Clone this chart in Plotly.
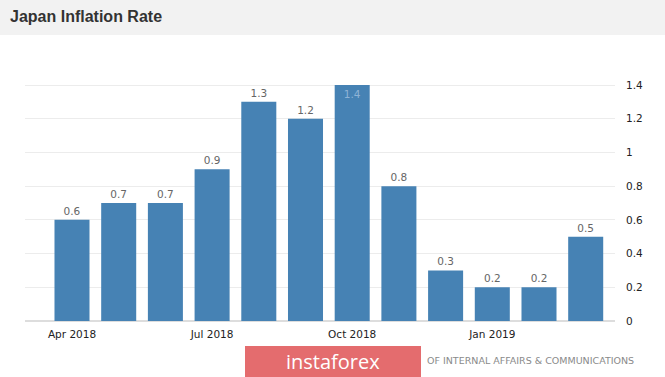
import plotly.graph_objects as go

months = ["Apr 2018", "May 2018", "Jun 2018", "Jul 2018", "Aug 2018", "Sep 2018",
          "Oct 2018", "Nov 2018", "Dec 2018", "Jan 2019", "Feb 2019", "Mar 2019"]
inflation = [0.6, 0.7, 0.7, 0.9, 1.3, 1.2, 1.4, 0.8, 0.3, 0.2, 0.2, 0.5]
x_ticks = ["Apr 2018", "Jul 2018", "Oct 2018", "Jan 2019"]
y_ticks = [0, 0.2, 0.4, 0.6, 0.8, 1, 1.2, 1.4]
y_tick_labels = ["0", "0.2", "0.4", "0.6", "0.8", "1", "1.2", "1.4"]

W, H = 665, 377
ymax = 1.4
positions = ["inside" if v >= ymax else "outside" for v in inflation]
colors = ["#8fb3d6" if v >= ymax else "#666666" for v in inflation]

L, R, T, B = 25, 50, 75, 56
PW, PH = W - L - R, H - T - B

def px_x(x):
    return (x - L) / PW

def px_y(y):
    return (H - B - y) / PH

fig = go.Figure()
fig.add_trace(go.Bar(
    x=months, y=inflation,
    marker=dict(color="#4682b4", line=dict(width=0)),
    text=[f"{v:g}" for v in inflation],
    textposition=positions,
    insidetextanchor="end",
    textfont=dict(family="DejaVu Sans", size=10.5, color=colors),
    cliponaxis=False,
    hoverinfo="x+y",
))

# category index i centre at 72 + 46.7*i px
x0_idx = (L - 72) / 46.7
x1_idx = (W - R - 72) / 46.7

fig.update_layout(
    width=W, height=H,
    margin=dict(l=L, r=R, t=T, b=B),
    paper_bgcolor="white", plot_bgcolor="white",
    bargap=0.25,
    showlegend=False,
    font=dict(family="DejaVu Sans", color="#333333"),
    xaxis=dict(
        type="category", range=[x0_idx, x1_idx],
        tickmode="array", tickvals=x_ticks, ticktext=x_ticks,
        tickfont=dict(size=10.5, color="#222222"),
        ticklabelstandoff=5,
        showgrid=False, showline=False, zeroline=False, ticks="",
    ),
    yaxis=dict(
        side="right", range=[0, (H - B - T) / (236 / 1.4)],
        tickmode="array", tickvals=y_ticks, ticktext=y_tick_labels,
        tickfont=dict(size=10.5, color="#222222"),
        ticklabelstandoff=10,
        showgrid=True, gridcolor="#ececec", gridwidth=1,
        zeroline=True, zerolinecolor="#dddddd", showline=False, ticks="",
    ),
    shapes=[
        dict(type="rect", xref="paper", yref="paper", x0=px_x(-5), x1=px_x(W + 5),
             y0=px_y(35), y1=px_y(-5),
             fillcolor="#f2f2f2", line=dict(width=0), layer="below"),
        dict(type="rect", xref="paper", yref="paper",
             x0=px_x(245), x1=px_x(421),
             y0=px_y(377), y1=px_y(346),
             fillcolor="#e46c6e", line=dict(width=0), layer="above"),
    ],
    annotations=[
        dict(text="<b>Japan Inflation Rate</b>", xref="paper", yref="paper",
             x=px_x(8), y=px_y(17), xanchor="left", yanchor="middle",
             showarrow=False, font=dict(family="Liberation Sans", size=16, color="#333333")),
        dict(text="instaforex", xref="paper", yref="paper",
             x=px_x(333), y=px_y(361), xanchor="center", yanchor="middle",
             showarrow=False, font=dict(family="Open Sans", size=20, color="white")),
        dict(text="OF INTERNAL AFFAIRS &amp; COMMUNICATIONS", xref="paper", yref="paper",
             x=px_x(425), y=px_y(360), xanchor="left", yanchor="middle",
             showarrow=False, font=dict(family="DejaVu Sans", size=9.5, color="#8a8a8a")),
    ],
)

fig.write_html("out.html", config={"displayModeBar": False},
               post_script="document.body.style.margin='0';")
